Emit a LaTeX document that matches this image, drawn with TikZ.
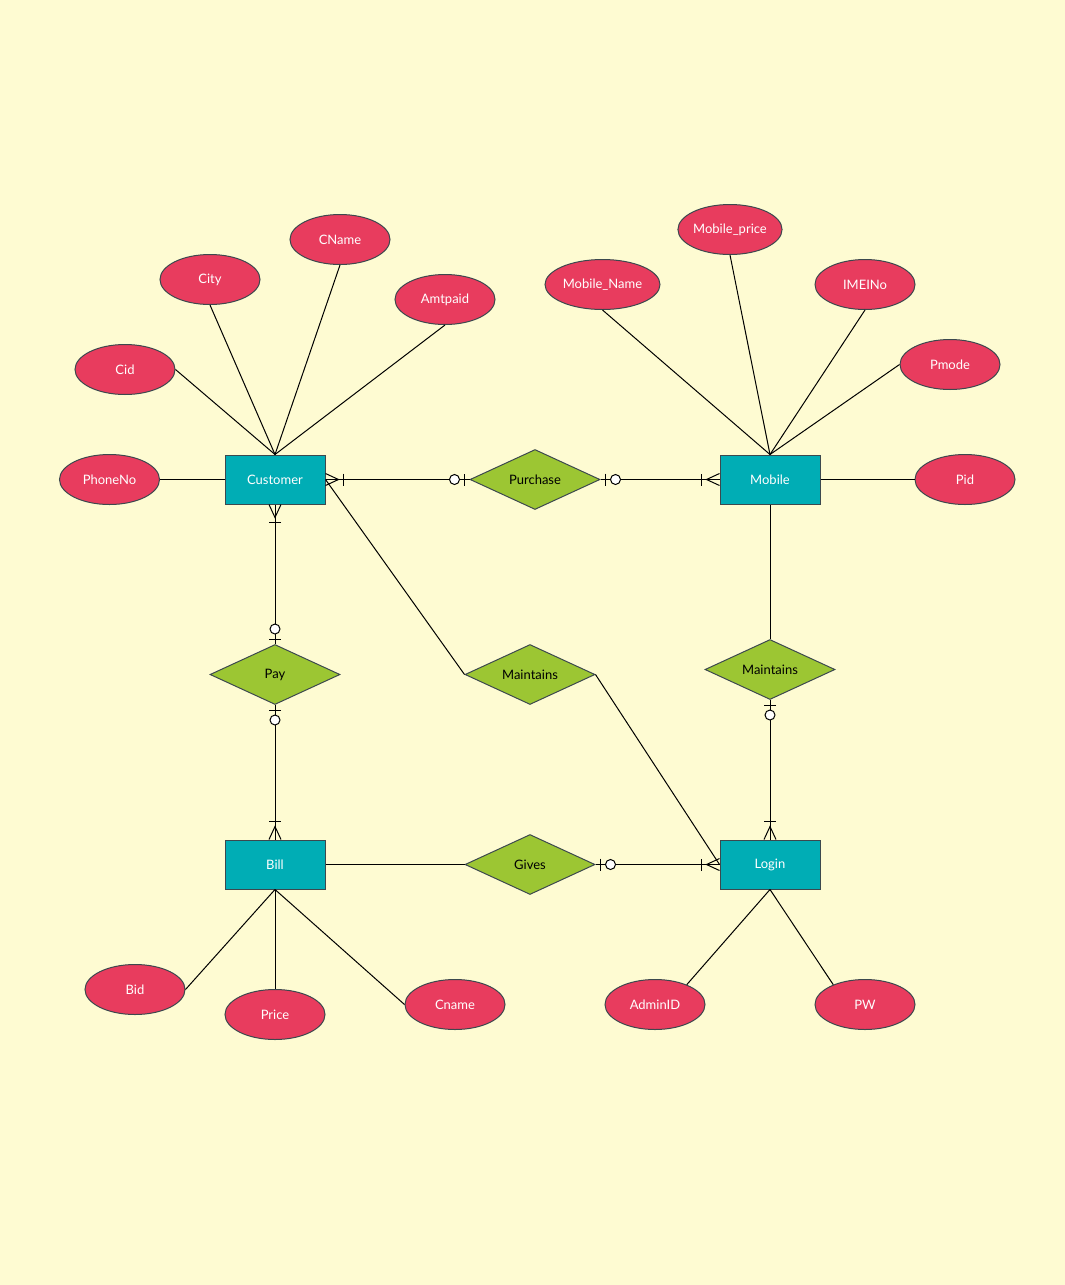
\documentclass[tikz,border=0pt]{standalone}
\usepackage{fontspec}
\setmainfont{Lato}
\usetikzlibrary{shapes.geometric,calc}
\definecolor{bg}{RGB}{254,251,210}
\definecolor{entfill}{RGB}{0,173,181}
\definecolor{attfill}{RGB}{232,60,94}
\definecolor{relfill}{RGB}{156,198,51}
\definecolor{border}{RGB}{60,72,78}
\newcommand\crowend[2]{%
  \coordinate (cf) at ($(#1)!13pt!(#2)$);
  \draw[conn] ($(#1)!6pt!90:(#2)$) -- (cf) -- ($(#1)!6pt!-90:(#2)$);
  \coordinate (cb) at ($(#1)!18pt!(#2)$);
  \draw[conn] ($(cb)!6pt!90:(#2)$) -- ($(cb)!6pt!-90:(#2)$);
}
\newcommand\zeroone[2]{%
  \coordinate (zb) at ($(#1)!5pt!(#2)$);
  \draw[conn] ($(zb)!6pt!90:(#2)$) -- ($(zb)!6pt!-90:(#2)$);
  \draw[conn,fill=white] ($(#1)!15pt!(#2)$) circle (5pt);
}
\begin{document}
\begin{tikzpicture}[x=1pt,y=-1pt,
  font=\fontsize{13}{15}\selectfont,
  conn/.style={draw=black,line width=1pt},
  entity/.style={rectangle,draw=border,line width=1pt,fill=entfill,text=white,minimum width=100pt,minimum height=49pt,inner sep=0pt},
  attr/.style={ellipse,draw=border,line width=1pt,fill=attfill,text=white,minimum width=100pt,minimum height=50pt,inner sep=0pt},
  rel/.style={diamond,draw=border,line width=1pt,fill=relfill,minimum width=130pt,minimum height=60pt,inner sep=0pt},
  every label/.style={text=black,font=\fontsize{13}{15}\selectfont}]
\path[fill=bg] (0,0) rectangle (1065,1285);
% entities
\node[entity] (Customer) at (275,479.5) {Customer};
\node[entity] (Mobile) at (770,479.5) {Mobile};
\node[entity] (Bill) at (275,864.5) {Bill};
\node[entity] (Login) at (770,864.5) {Login};
% relationships
\node[rel,label={center:Purchase}] (Purchase) at (535,479.5) {};
\node[rel,label={center:Pay}] (Pay) at (275,674.5) {};
\node[rel,label={center:Maintains}] (MaintA) at (530,674.5) {};
\node[rel,label={center:Maintains}] (MaintB) at (770,669.5) {};
\node[rel,label={center:Gives}] (Gives) at (530,864.5) {};
% attributes
\node[attr] (Cid) at (125,369.5) {Cid};
\node[attr] (City) at (210,279.5) {City};
\node[attr] (CName) at (340,239.5) {CName};
\node[attr] (Amtpaid) at (445,299.5) {Amtpaid};
\node[attr] (PhoneNo) at (109.5,479.5) {PhoneNo};
\node[attr,minimum width=115pt] (MName) at (602.5,284.5) {Mobile\_Name};
\node[attr] (MPrice) at (730,229.5) {Mobile\_price};
\node[attr] (IMEI) at (865,284.5) {IMEINo};
\node[attr] (Pmode) at (950,364.5) {Pmode};
\node[attr] (Pid) at (965,479.5) {Pid};
\node[attr] (Bid) at (135,989.5) {Bid};
\node[attr] (Price) at (275,1014.5) {Price};
\node[attr] (Cname2) at (455,1004.5) {Cname};
\node[attr] (AdminID) at (655,1004.5) {AdminID};
\node[attr] (PW) at (865,1004.5) {PW};
% attribute links
\draw[conn] (Customer.north) -- (Cid.east);
\draw[conn] (Customer.north) -- (City.south);
\draw[conn] (Customer.north) -- (CName.south);
\draw[conn] (Customer.north) -- (Amtpaid.south);
\draw[conn] (PhoneNo.east) -- (Customer.west);
\draw[conn] (Mobile.north) -- (MName.south);
\draw[conn] (Mobile.north) -- (MPrice.south);
\draw[conn] (Mobile.north) -- (IMEI.south);
\draw[conn] (Mobile.north) -- (Pmode.west);
\draw[conn] (Mobile.east) -- (Pid.west);
\draw[conn] (Bill.south) -- (Bid.east);
\draw[conn] (Bill.south) -- (Price.north);
\draw[conn] (Bill.south) -- (Cname2.west);
\draw[conn] (Login.south) -- (AdminID.32);
\draw[conn] (Login.south) -- (PW.148);
% relationship links
\draw[conn] (Customer.east) -- (Purchase.west);
\crowend{Customer.east}{Purchase.west}
\zeroone{Purchase.west}{Customer.east}
\draw[conn] (Purchase.east) -- (Mobile.west);
\zeroone{Purchase.east}{Mobile.west}
\crowend{Mobile.west}{Purchase.east}
\draw[conn] (Customer.south) -- (Pay.north);
\crowend{Customer.south}{Pay.north}
\zeroone{Pay.north}{Customer.south}
\draw[conn] (Pay.south) -- (Bill.north);
\zeroone{Pay.south}{Bill.north}
\crowend{Bill.north}{Pay.south}
\draw[conn] (Customer.east) -- (MaintA.west);
\draw[conn] (MaintA.east) -- (Login.west);
\draw[conn] (Bill.east) -- (Gives.west);
\draw[conn] (Gives.east) -- (Login.west);
\zeroone{Gives.east}{Login.west}
\crowend{Login.west}{Gives.east}
\draw[conn] (Mobile.south) -- (MaintB.north);
\draw[conn] (MaintB.south) -- (Login.north);
\zeroone{MaintB.south}{Login.north}
\crowend{Login.north}{MaintB.south}
\end{tikzpicture}
\end{document}
